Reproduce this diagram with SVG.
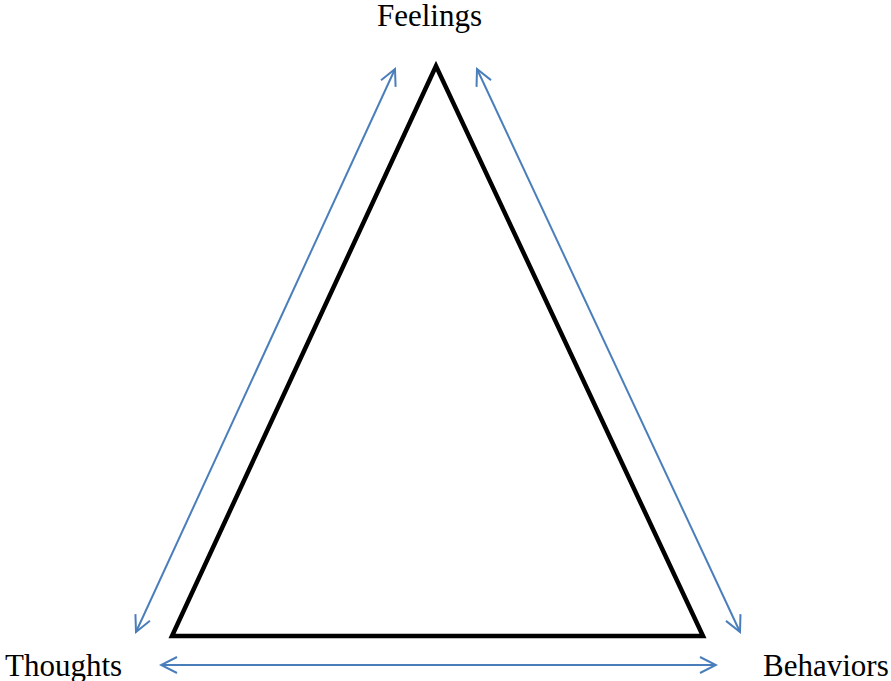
<svg xmlns="http://www.w3.org/2000/svg" width="891" height="681" viewBox="0 0 891 681">
<style>
.lbl{font-family:"Liberation Serif","Times New Roman",serif;font-size:31px;fill:#000}
.conn{stroke:#4a7ebb;stroke-width:2;fill:none;marker-start:url(#ah);marker-end:url(#ah)}
</style>
<defs>
<marker id="ah" viewBox="0 0 20 20" refX="18" refY="10" markerWidth="20" markerHeight="20" markerUnits="userSpaceOnUse" orient="auto-start-reverse">
<path d="M2,2 L18,10 L2,18" fill="none" stroke="#4a7ebb" stroke-width="2"/>
</marker>
</defs>
<rect width="891" height="681" fill="#fff"/>
<g id="triangle">
<polygon points="436,66 172,636 703,636" fill="none" stroke="#000" stroke-width="4.5" stroke-linejoin="miter"/>
</g>
<g id="feelings"><text class="lbl" x="377" y="26">Feelings</text></g>
<g id="thoughts"><text class="lbl" x="5" y="676">Thoughts</text></g>
<g id="behaviors"><text class="lbl" x="763" y="676">Behaviors</text></g>
<g id="connectors">
<line class="conn" x1="136" y1="632" x2="395" y2="69"/>
<line class="conn" x1="477" y1="69" x2="740" y2="632"/>
<line class="conn" x1="161" y1="665" x2="716" y2="665"/>
</g>
</svg>
